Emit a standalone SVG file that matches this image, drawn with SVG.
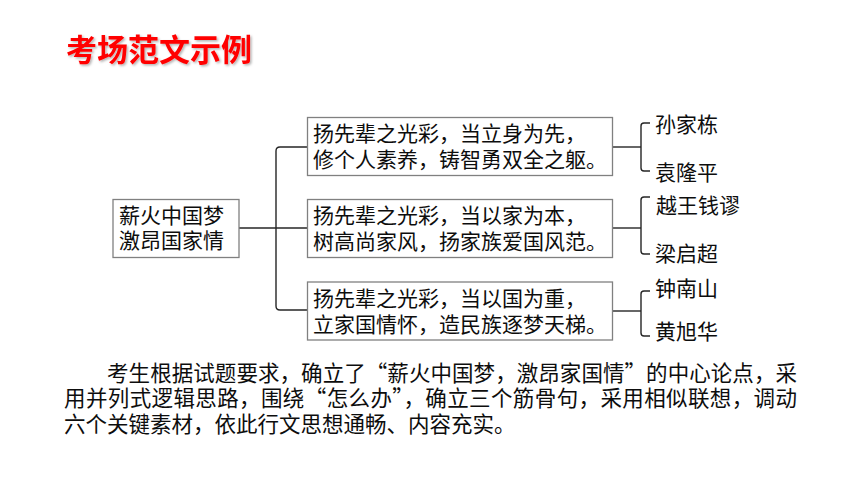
<svg xmlns="http://www.w3.org/2000/svg" width="860" height="484" viewBox="0 0 860 484">
<style>
.t{font-family:"Microsoft YaHei","Noto Sans CJK SC",sans-serif;fill:#0d0d0d;font-size:21px}
.box{fill:#fff;stroke:#808080;stroke-width:1.3}
.ln{fill:none;stroke:#262626;stroke-width:1.4}
.title{font-family:"Noto Sans CJK SC",sans-serif;font-weight:bold;font-size:31px;fill:#ff0000}
</style>
<defs>
<filter id="sh" x="-10%" y="-20%" width="120%" height="150%">
<feDropShadow dx="1.5" dy="1.5" stdDeviation="1" flood-color="#000" flood-opacity="0.3"/>
</filter>
</defs>
<rect width="860" height="484" fill="#fff"/>
<text class="title" x="66" y="61" filter="url(#sh)">考场范文示例</text>

<g id="connectors">
<path class="ln" d="M239 228 H307"/>
<path class="ln" d="M307 147 H280 Q276 147 276 151 V306 Q276 310 280 310 H307"/>
<path class="ln" d="M613 147 H641"/>
<path class="ln" d="M650 123 H644 Q641 123 641 126 V168 Q641 171 644 171 H650"/>
<path class="ln" d="M613 228 H641"/>
<path class="ln" d="M650 197 H644 Q641 197 641 200 V251 Q641 254 644 254 H650"/>
<path class="ln" d="M613 311 H641"/>
<path class="ln" d="M650 291 H644 Q641 291 641 294 V333 Q641 336 644 336 H650"/>
</g>

<g id="root">
<rect class="box" x="113" y="199.5" width="126" height="58"/>
<text class="t"><tspan x="119" y="223">薪火中国梦</tspan><tspan x="119" y="248">激昂国家情</tspan></text>
</g>

<g id="b1">
<rect class="box" x="307.5" y="117.5" width="305" height="58"/>
<text class="t"><tspan x="313" y="141">扬先辈之光彩，当立身为先，</tspan><tspan x="313" y="167">修个人素养，铸智勇双全之躯。</tspan></text>
</g>
<g id="b2">
<rect class="box" x="307.5" y="199.5" width="305" height="58"/>
<text class="t"><tspan x="313" y="223">扬先辈之光彩，当以家为本，</tspan><tspan x="313" y="249">树高尚家风，扬家族爱国风范。</tspan></text>
</g>
<g id="b3">
<rect class="box" x="307.5" y="282" width="305" height="58"/>
<text class="t"><tspan x="313" y="306">扬先辈之光彩，当以国为重，</tspan><tspan x="313" y="332">立家国情怀，造民族逐梦天梯。</tspan></text>
</g>

<g id="n1"><text class="t" x="655" y="132">孙家栋</text></g>
<g id="n2"><text class="t" x="655" y="180">袁隆平</text></g>
<g id="n3"><text class="t" x="656" y="213">越王钱谬</text></g>
<g id="n4"><text class="t" x="655" y="261">梁启超</text></g>
<g id="n5"><text class="t" x="655" y="296">钟南山</text></g>
<g id="n6"><text class="t" x="655" y="339">黄旭华</text></g>

<g id="para">
<text class="t" style="font-size:21.5px"><tspan x="107" y="381" textLength="690" lengthAdjust="spacing">考生根据试题要求，确立了“薪火中国梦，激昂家国情”的中心论点，采</tspan><tspan x="64" y="406" textLength="733" lengthAdjust="spacing">用并列式逻辑思路，围绕“怎么办”，确立三个筋骨句，采用相似联想，调动</tspan><tspan x="64" y="432">六个关键素材，依此行文思想通畅、内容充实。</tspan></text>
</g>
</svg>
